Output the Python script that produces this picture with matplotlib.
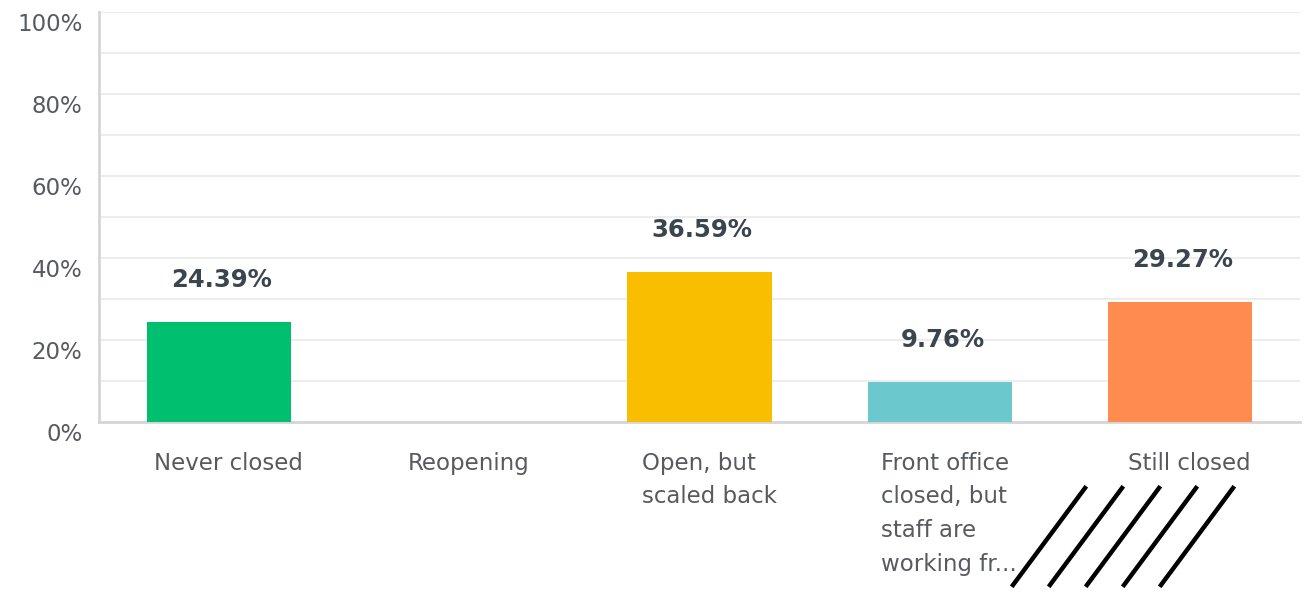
import matplotlib.pyplot as plt
import matplotlib.transforms as mtransforms
from matplotlib.lines import Line2D

# data
categories = ["Never closed", "Reopening", "Open, but\nscaled back",
              "Front office\nclosed, but\nstaff are\nworking fr...", "Still closed"]
values = [24.39, 0.0, 36.59, 9.76, 29.27]
bar_colors = ["#00bf6f", "#00bf6f", "#f9be00", "#6bc8cd", "#ff8b4f"]
y_ticks = [0, 20, 40, 60, 80, 100]
y_labels = ["0%", "20%", "40%", "60%", "80%", "100%"]

plt.rcParams["font.family"] = ["DejaVu Sans"]

fig = plt.figure(figsize=(13.06, 5.92), dpi=100)
ax = fig.add_axes([0.0758, 0.287, 0.9196, 0.6927])

x = list(range(len(categories)))
ax.bar(x, values, width=0.6, color=bar_colors, zorder=3)

# value labels above bars (skip empty bars)
for xi, v in zip(x, values):
    if v > 0:
        ax.annotate(f"{v:.2f}%", (xi, v), xytext=(2, 30), textcoords="offset points",
                    ha="center", va="center", fontsize=17.5, fontweight="bold",
                    color="#3b4550")

ax.set_xlim(-0.5, len(categories) - 0.5)
ax.set_ylim(0, 100)

# grid every 10%
for g in range(10, 101, 10):
    ax.axhline(g, color="#ededed", linewidth=1.5, zorder=1)

ax.set_yticks(y_ticks)
ax.set_yticklabels(y_labels)
ax.tick_params(axis="y", length=0, pad=12, labelsize=16.5, labelcolor="#555b61")
offset = mtransforms.ScaledTranslation(0, -10 / 100, fig.dpi_scale_trans)
for lab in ax.get_yticklabels():
    lab.set_transform(lab.get_transform() + offset)

# category labels
ax.set_xticks([])
for xi, cat in zip(x, categories):
    ax.text(xi + 0.04, -0.072, cat, transform=ax.get_xaxis_transform(),
            ha="center", va="top", multialignment="left", linespacing=1.6,
            fontsize=16.5, color="#555b61")

for side in ["top", "right"]:
    ax.spines[side].set_visible(False)
ax.spines["left"].set_color("#d5d5d5")
ax.spines["bottom"].set_color("#d5d5d5")
ax.spines["left"].set_linewidth(2)
ax.spines["bottom"].set_linewidth(2)

# decorative slashes bottom right
W, H = 1306, 592
for k in range(5):
    x0 = 1013 + 37 * k
    fig.add_artist(Line2D([x0 / W, (x0 + 72) / W], [1 - 585 / H, 1 - 488 / H],
                          transform=fig.transFigure, color="black", linewidth=3.2))

fig.savefig("out.png", dpi=100)
